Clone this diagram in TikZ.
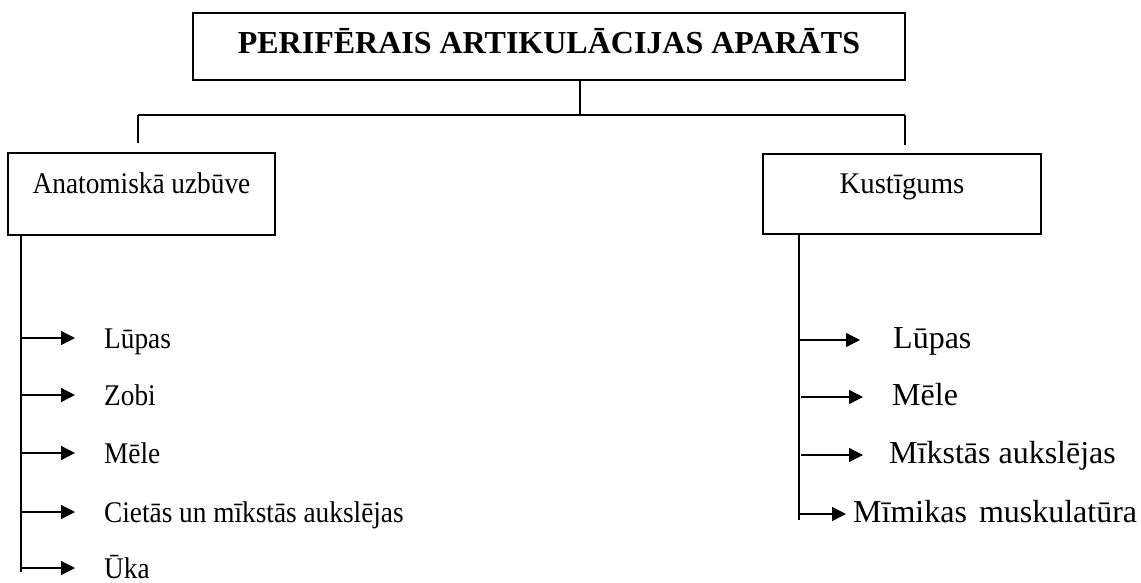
\documentclass[tikz,border=0pt]{standalone}
\usepackage{fontspec}
\setmainfont{Liberation Serif}
\newfontfamily\condfont[FakeStretch=0.91]{Liberation Serif}
\newfontfamily\kfont[FakeStretch=0.96]{Liberation Serif}
\usetikzlibrary{arrows.meta}
\begin{document}
\begin{tikzpicture}[x=1pt,y=-1pt,
  box/.style={draw,line width=1.6pt,inner sep=0pt,anchor=base},
  conn/.style={line width=1.3pt},
  arr/.style={line width=1.3pt,-{Triangle[length=14pt,width=14pt]}},
  lefttxt/.style={anchor=base west,inner sep=0pt,text height=20pt,text depth=0pt,font=\condfont\fontsize{30}{36}\selectfont},
  righttxt/.style={anchor=base west,inner sep=0pt,text height=16pt,text depth=0pt,font=\fontsize{32}{38}\selectfont}]
\useasboundingbox (0,0) rectangle (1141,582);

% boxes
\node[box,minimum width=712pt,text height=40pt,text depth=27pt,font=\bfseries\fontsize{32}{38}\selectfont] (title) at (549,53) {PERIFĒRAIS ARTIKULĀCIJAS APARĀTS};
\node[box,minimum width=267pt,text height=40pt,text depth=42pt,font=\condfont\fontsize{30}{36}\selectfont] (anat) at (141.5,193) {Anatomiskā uzbūve};
\node[box,minimum width=278pt,text height=39pt,text depth=41pt,font=\kfont\fontsize{30}{36}\selectfont] (kust) at (902,193) {Kustīgums};

% tree connectors
\coordinate (j) at (580,115);
\coordinate (jl) at (138,115);
\coordinate (jr) at (905,115);
\draw[conn] (title.south -| j) -- (j);
\draw[conn] (jl) -- (jr);
\draw[conn] (jl) -- ([yshift=9pt]anat.north -| jl);
\draw[conn] (jr) -- ([yshift=8pt]kust.north -| jr);

% left list
\coordinate (tl) at (21,572);
\draw[conn] (anat.south -| tl) -- (tl);
\node[lefttxt] (a1) at (104,348) {Lūpas};
\node[lefttxt] (a2) at (104,405) {Zobi};
\node[lefttxt] (a3) at (104,463) {Mēle};
\node[lefttxt] (a4) at (104,522) {Cietās un mīkstās aukslējas};
\node[lefttxt] (a5) at (104,578) {Ūka};
\foreach \n in {a1,a2,a3,a4,a5}
  \draw[arr] (\n.west -| tl) -- ([xshift=-29pt]\n.west);

% right list
\coordinate (tr) at (799,520);
\draw[conn] (kust.south -| tr) -- (tr);
\node[righttxt] (b1) at (893,348) {Lūpas};
\node[righttxt] (b2) at (892,405) {Mēle};
\node[righttxt] (b3) at (889,463) {Mīkstās aukslējas};
\node[righttxt] (b4) at (853,522) {Mīmikas\hspace{12pt}muskulatūra};
\draw[arr] (b1.west -| tr) -- ([xshift=-33pt]b1.west);
\draw[arr] ([xshift=2pt]b2.west -| tr) -- ([xshift=-29pt]b2.west);
\draw[arr] ([xshift=2pt]b3.west -| tr) -- ([xshift=-26pt]b3.west);
\draw[arr] (b4.west -| tr) -- ([xshift=-7pt]b4.west);
\end{tikzpicture}
\end{document}
